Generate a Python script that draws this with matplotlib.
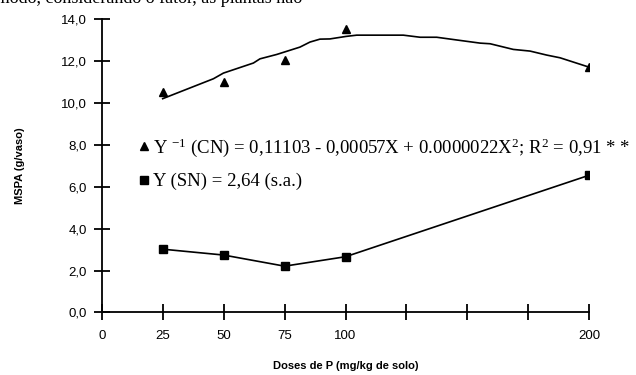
import numpy as np
import matplotlib
matplotlib.use("Agg")
import matplotlib.pyplot as plt
from matplotlib.lines import Line2D

plt.rcParams["mathtext.default"] = "regular"

# observed means, with N (CN) and without N (SN)
doses = [25, 50, 75, 100, 200]
mspa_cn = [10.5, 11.0, 12.05, 13.5, 11.7]
mspa_sn = [3.02, 2.74, 2.21, 2.66, 6.55]

# fitted curve for CN
fit_x = [25, 45.8, 49.9, 62.2, 64.9, 71.8, 81.3, 85.4, 89.5, 93.6, 100.2,
         104.6, 123.7, 130.6, 137.4, 145.6, 155.2, 159.3, 168.8, 175.7,
         182.5, 188.0, 200]
fit_y = [10.2, 11.15, 11.42, 11.9, 12.1, 12.31, 12.66, 12.9, 13.04, 13.05,
         13.17, 13.23, 13.23, 13.13, 13.13, 13.0, 12.85, 12.82, 12.55, 12.47,
         12.28, 12.15, 11.7]

xticks = [0, 25, 50, 75, 100, 125, 150, 175, 200]
xticklabels = ["0", "25", "50", "75", "100", "", "", "", "200"]
yticks = [0, 2, 4, 6, 8, 10, 12, 14]

lbl_cn = "Y $^{-1}$ (CN) = 0,11103 - 0,00057X + 0.0000022X$^{2}$; R$^{2}$ = 0,91 * *"
lbl_sn = "Y (SN) = 2,64 (s.a.)"

fig = plt.figure(figsize=(6.36, 3.75), dpi=100)
ax = fig.add_axes([0.160, 0.1667, 0.7666, 0.7826])

ax.plot(fit_x, fit_y, color="black", lw=1.2)
ax.plot(doses, mspa_cn, ls="none", marker="^", ms=6, color="black")
ax.plot(doses, mspa_sn, color="black", lw=1.2, marker="s", ms=5.5)

ax.set_xlim(0, 200)
ax.set_ylim(0, 14)
ax.set_xticks(xticks)
ax.set_xticklabels(xticklabels)
ax.set_yticks(yticks)
ax.set_yticklabels([f"{v:.1f}".replace(".", ",") for v in yticks])

for s in ["top", "right"]:
    ax.spines[s].set_visible(False)
for s in ["left", "bottom"]:
    ax.spines[s].set_linewidth(1.3)
    ax.spines[s].set_clip_on(False)
ax.tick_params(direction="inout", length=11, width=1.3, labelsize=9.5,
               pad=5, labelfontfamily="Liberation Sans")
ax.tick_params(axis="x", pad=7)

ax.set_xlabel("Doses de P (mg/kg de solo)", family="Liberation Sans",
              weight="bold", fontsize=8, labelpad=14)
ax.set_ylabel("MSPA (g/vaso)", family="Liberation Sans", weight="bold",
              fontsize=8, labelpad=26)

handles = [Line2D([], [], ls="none", marker="^", ms=6, color="black"),
           Line2D([], [], ls="none", marker="s", ms=5.5, color="black")]
ax.legend(handles, [lbl_cn, lbl_sn], loc="upper left",
          bbox_to_anchor=(0.075, 0.6), frameon=False, handlelength=0.6,
          handletextpad=0.2, labelspacing=0.75, borderpad=0,
          borderaxespad=0,
          prop={"family": "Liberation Serif", "size": 13.5})

# tail of the running text line above the figure
fig.text(302 / 636, 1.0 + 2 / 375,
         "Desse modo, considerando o fator, as plantas não",
         ha="right", va="center", family="Liberation Serif", fontsize=13)

fig.savefig("out.png", dpi=100)
